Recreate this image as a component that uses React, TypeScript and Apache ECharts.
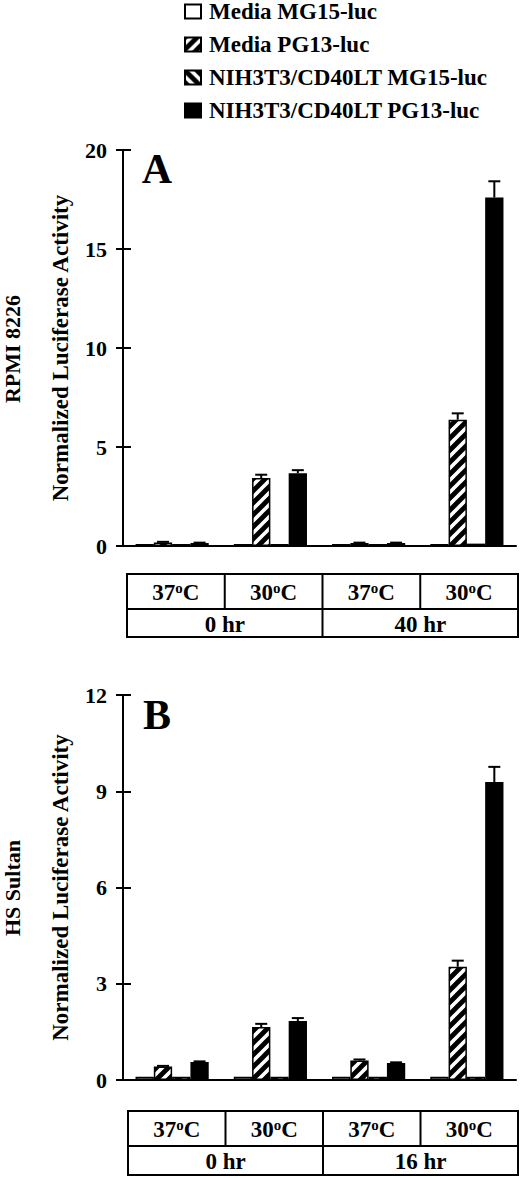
import React, { useEffect, useRef } from 'react';
import * as echarts from 'echarts';

// ---------- data ----------
const seriesNames = ['Media MG15-luc', 'Media PG13-luc', 'NIH3T3/CD40LT MG15-luc', 'NIH3T3/CD40LT PG13-luc'];
const categoriesA = ['0 hr 37oC', '0 hr 30oC', '40 hr 37oC', '40 hr 30oC'];
const categoriesB = ['0 hr 37oC', '0 hr 30oC', '16 hr 37oC', '16 hr 30oC'];
const tempLabels = ['37', '30', '37', '30'];
const timeLabelsA = ['0 hr', '40 hr'];
const timeLabelsB = ['0 hr', '16 hr'];
const yTicksA = [0, 5, 10, 15, 20];
const yTicksB = [0, 3, 6, 9, 12];
const cellLineA = 'RPMI 8226';
const cellLineB = 'HS Sultan';
const yTitle = 'Normalized Luciferase Activity';

// panel A values (per series, per category)
const mediaMG15A = [0.1, 0.1, 0.1, 0.1];
const mediaPG13A = [0.18, 3.43, 0.15, 6.38];
const nihMG15A = [0.1, 0.1, 0.1, 0.12];
const nihPG13A = [0.15, 3.68, 0.15, 17.6];
const mediaPG13ErrA = [0.03, 0.17, 0.02, 0.32];
const nihPG13ErrA = [0.02, 0.15, 0.02, 0.82];

// panel B values
const mediaMG15B = [0.1, 0.1, 0.1, 0.1];
const mediaPG13B = [0.42, 1.65, 0.61, 3.53];
const nihMG15B = [0.1, 0.1, 0.1, 0.1];
const nihPG13B = [0.56, 1.84, 0.53, 9.29];
const mediaPG13ErrB = [0.02, 0.1, 0.03, 0.19];
const nihPG13ErrB = [0.02, 0.09, 0.02, 0.47];

// ---------- styling helpers ----------
const FONT = '"Liberation Serif", "Times New Roman", serif';
const CAT_GAP = 0.255;

function stripe(dir: number) {
  const T = 12;
  const c = document.createElement('canvas');
  c.width = T;
  c.height = T;
  const ctx = c.getContext('2d') as CanvasRenderingContext2D;
  ctx.fillStyle = '#fff';
  ctx.fillRect(0, 0, T, T);
  ctx.strokeStyle = '#000';
  ctx.lineWidth = 4.8;
  ctx.beginPath();
  if (dir > 0) {
    for (const k of [0, T, 2 * T]) {
      ctx.moveTo(-T, k + T);
      ctx.lineTo(k + T, -T);
    }
  } else {
    for (const k of [-T, 0, T]) {
      ctx.moveTo(-T, -T - k);
      ctx.lineTo(2 * T, 2 * T - k);
    }
  }
  ctx.stroke();
  return { image: c, repeat: 'repeat', imageWidth: T, imageHeight: T };
}

function yAxes(ticks: number[], gridIndex: number) {
  const min = ticks[0];
  const max = ticks[ticks.length - 1];
  const interval = ticks[1] - ticks[0];
  return [
    {
      type: 'value', gridIndex, min, max, interval,
      axisLine: { show: true, lineStyle: { color: '#000', width: 2 } },
      axisTick: { show: true, length: 7, lineStyle: { color: '#000', width: 2 } },
      splitLine: { show: false },
      axisLabel: { color: '#000', fontSize: 22, fontWeight: 'bold', fontFamily: FONT, margin: 16 },
      name: yTitle,
      nameLocation: 'middle',
      nameGap: 51,
      nameRotate: 90,
      nameTextStyle: { color: '#000', fontSize: 23, fontWeight: 'bold', fontFamily: FONT },
    },
    {
      type: 'value', gridIndex, min, max, interval, position: 'left',
      axisLine: { show: false },
      axisTick: { show: true, inside: true, length: 8, lineStyle: { color: '#000', width: 2 } },
      splitLine: { show: false },
      axisLabel: { show: false },
    },
  ];
}

function tableGraphics(left: number, top: number, width: number, h1: number, h2: number, times: string[]) {
  const els: any[] = [];
  const lineStyle = { stroke: '#000', lineWidth: 2 };
  const colW = width / 4;
  els.push({ type: 'rect', shape: { x: left, y: top, width, height: h1 + h2 }, style: { fill: 'none', ...lineStyle } });
  els.push({ type: 'line', shape: { x1: left, y1: top + h1, x2: left + width, y2: top + h1 }, style: lineStyle });
  for (let i = 1; i < 4; i++) {
    const x = left + colW * i;
    els.push({ type: 'line', shape: { x1: x, y1: top, x2: x, y2: top + (i === 2 ? h1 + h2 : h1) }, style: lineStyle });
  }
  tempLabels.forEach((t, i) => {
    els.push({
      type: 'text',
      x: left + colW * (i + 0.5),
      y: top + h1 / 2 + 1,
      style: {
        text: `{n|${t}}{s|o}{n|C}`,
        align: 'center',
        verticalAlign: 'middle',
        rich: {
          n: { fontSize: 23, fontWeight: 'bold', fontFamily: FONT, fill: '#000', lineHeight: 24 },
          s: { fontSize: 15, fontWeight: 'bold', fontFamily: FONT, fill: '#000', lineHeight: 12, verticalAlign: 'top' },
        },
      },
    });
  });
  times.forEach((t, i) => {
    els.push({
      type: 'text',
      x: left + colW * (2 * i + 1),
      y: top + h1 + h2 / 2 + 1,
      style: { text: t, align: 'center', verticalAlign: 'middle', fontSize: 23, fontWeight: 'bold', fontFamily: FONT, fill: '#000' },
    });
  });
  return els;
}

function errorRender(params: any, api: any) {
  const cat = api.value(0);
  const val = api.value(1);
  const err = api.value(2);
  const idx = api.value(3);
  const base = api.coord([cat, val]);
  const top = api.coord([cat, val + err]);
  const band = api.size([1, 0])[0];
  const groupW = band * (1 - CAT_GAP);
  const bw = groupW / 4;
  const x = base[0] - groupW / 2 + bw * (idx + 0.5);
  const style = { stroke: '#000', lineWidth: 2 };
  return {
    type: 'group',
    children: [
      { type: 'line', shape: { x1: x, y1: base[1], x2: x, y2: top[1] }, style },
      { type: 'line', shape: { x1: x - 6, y1: top[1], x2: x + 6, y2: top[1] }, style },
    ],
  };
}

export default function App() {
  const ref = useRef<HTMLDivElement>(null);
  useEffect(() => {
    document.body.style.margin = '0';
    if (!ref.current) return;
    const chart = echarts.init(ref.current, null, { renderer: 'svg' });

    const styles = [
      { color: '#fff', borderColor: '#000', borderWidth: 1.5 },
      { color: stripe(1), borderColor: '#000', borderWidth: 1.5 },
      { color: stripe(-1), borderColor: '#000', borderWidth: 1.5 },
      { color: '#000', borderColor: '#000', borderWidth: 1.5 },
    ];
    const valsA = [mediaMG15A, mediaPG13A, nihMG15A, nihPG13A];
    const valsB = [mediaMG15B, mediaPG13B, nihMG15B, nihPG13B];

    const bars = (vals: number[][], xi: number, yi: number) =>
      vals.map((d, i) => ({
        type: 'bar',
        name: seriesNames[i],
        xAxisIndex: xi,
        yAxisIndex: yi,
        data: d,
        barGap: '0%',
        barCategoryGap: `${CAT_GAP * 100}%`,
        itemStyle: styles[i],
        emphasis: { disabled: true },
      }));

    const errData = (pg: number[], pgErr: number[], nih: number[], nihErr: number[]) => {
      const out: number[][] = [];
      pg.forEach((v, c) => out.push([c, v, pgErr[c], 1]));
      nih.forEach((v, c) => out.push([c, v, nihErr[c], 3]));
      return out;
    };

    const option: any = {
      animation: false,
      legend: {
        data: seriesNames.map((n) => ({ name: n, icon: 'rect' })),
        orient: 'vertical',
        left: 184,
        top: 0,
        padding: 0,
        itemWidth: 16,
        itemHeight: 14,
        itemGap: 10,
        selectedMode: false,
        textStyle: { color: '#000', fontSize: 23, fontWeight: 'bold', fontFamily: FONT, lineHeight: 23, padding: [0, 0, 0, 3] },
      },
      grid: [
        { left: 123, top: 150, width: 393, height: 396 },
        { left: 123, top: 695, width: 393, height: 385 },
      ],
      xAxis: [categoriesA, categoriesB].map((cats, gi) => ({
        type: 'category',
        gridIndex: gi,
        data: cats,
        axisLine: { show: true, lineStyle: { color: '#000', width: 2 } },
        axisTick: { show: false },
        axisLabel: { show: false },
      })),
      yAxis: [...yAxes(yTicksA, 0), ...yAxes(yTicksB, 1)],
      series: [
        ...bars(valsA, 0, 0),
        ...bars(valsB, 1, 2),
        {
          type: 'custom', xAxisIndex: 0, yAxisIndex: 0, z: 5,
          renderItem: errorRender,
          encode: { x: 0, y: 1 },
          data: errData(mediaPG13A, mediaPG13ErrA, nihPG13A, nihPG13ErrA),
        },
        {
          type: 'custom', xAxisIndex: 1, yAxisIndex: 2, z: 5,
          renderItem: errorRender,
          encode: { x: 0, y: 1 },
          data: errData(mediaPG13B, mediaPG13ErrB, nihPG13B, nihPG13ErrB),
        },
      ],
      graphic: [
        { type: 'text', x: 157, y: 169, style: { text: 'A', align: 'center', verticalAlign: 'middle', fontSize: 42, fontWeight: 'bold', fontFamily: FONT, fill: '#000' } },
        { type: 'text', x: 157, y: 715, style: { text: 'B', align: 'center', verticalAlign: 'middle', fontSize: 42, fontWeight: 'bold', fontFamily: FONT, fill: '#000' } },
        { type: 'text', x: 12.5, y: 349, rotation: Math.PI / 2, style: { text: cellLineA, align: 'center', verticalAlign: 'middle', fontSize: 22, fontWeight: 'bold', fontFamily: FONT, fill: '#000' } },
        { type: 'text', x: 12.5, y: 888, rotation: Math.PI / 2, style: { text: cellLineB, align: 'center', verticalAlign: 'middle', fontSize: 22, fontWeight: 'bold', fontFamily: FONT, fill: '#000' } },
        ...tableGraphics(127, 574, 391, 35, 28, timeLabelsA),
        ...tableGraphics(128, 1111, 390, 35, 29, timeLabelsB),
      ],
    };
    chart.setOption(option);
    return () => chart.dispose();
  }, []);
  return <div ref={ref} style={{ width: 520, height: 1178 }} />;
}
